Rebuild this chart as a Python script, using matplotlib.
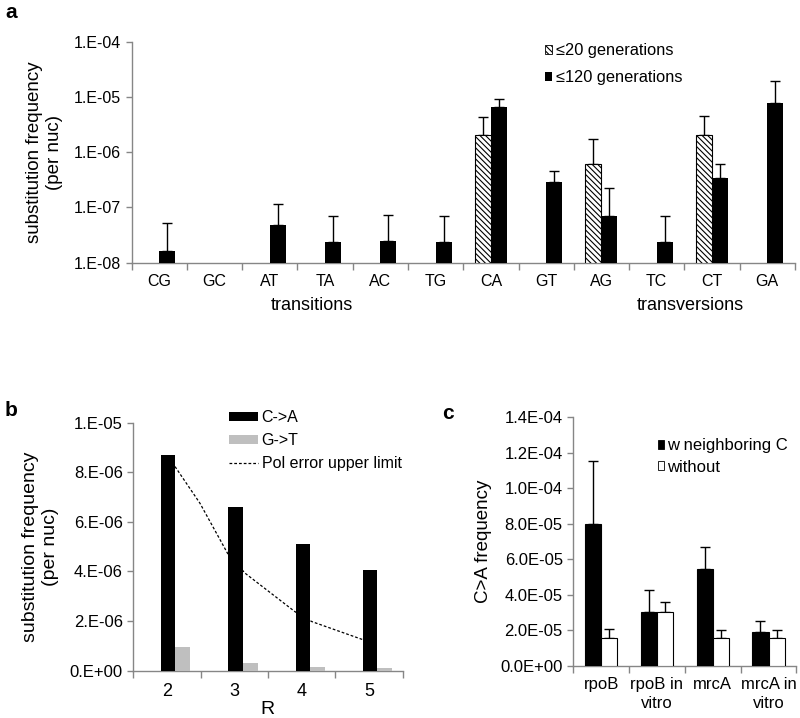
import numpy as np
import matplotlib
matplotlib.use("Agg")
import matplotlib.pyplot as plt
from matplotlib.patches import Patch
from matplotlib.lines import Line2D

plt.rcParams["font.family"] = ["Liberation Sans", "DejaVu Sans"]
plt.rcParams["hatch.linewidth"] = 0.8

# panel a data
subst = ["CG", "GC", "AT", "TA", "AC", "TG", "CA", "GT", "AG", "TC", "CT", "GA"]
gen20 = [0, 0, 0, 0, 0, 0, 2.05e-6, 0, 6.1e-7, 0, 2.05e-6, 0]
gen20_err = [0, 0, 0, 0, 0, 0, 4.4e-6, 0, 1.75e-6, 0, 4.6e-6, 0]
gen120 = [1.65e-8, 0, 4.8e-8, 2.4e-8, 2.5e-8, 2.4e-8, 6.7e-6, 2.93e-7, 7.1e-8, 2.4e-8, 3.38e-7, 7.9e-6]
gen120_err = [5.2e-8, 0, 1.14e-7, 7.1e-8, 7.4e-8, 7.1e-8, 9.2e-6, 4.6e-7, 2.23e-7, 7.1e-8, 6.1e-7, 1.98e-5]
a_yticks = [1e-8, 1e-7, 1e-6, 1e-5, 1e-4]
a_yticklabels = ["1.E-08", "1.E-07", "1.E-06", "1.E-05", "1.E-04"]

# panel b data
R_vals = ["2", "3", "4", "5"]
c_to_a = [8.70e-6, 6.61e-6, 5.10e-6, 4.05e-6]
g_to_t = [0.97e-6, 0.32e-6, 0.16e-6, 0.12e-6]
pol_R = [2.12, 2.49, 2.90, 3.16, 3.90, 4.15, 4.92]
pol_limit = [8.23e-6, 6.75e-6, 4.73e-6, 3.93e-6, 2.38e-6, 1.98e-6, 1.24e-6]
b_yticks = [0, 2e-6, 4e-6, 6e-6, 8e-6, 1e-5]
b_yticklabels = ["0.E+00", "2.E-06", "4.E-06", "6.E-06", "8.E-06", "1.E-05"]

# panel c data
genes = ["rpoB", "rpoB in\nvitro", "mrcA", "mrcA in\nvitro"]
with_c = [8.0e-5, 3.03e-5, 5.46e-5, 1.9e-5]
with_c_err = [11.55e-5, 4.3e-5, 6.69e-5, 2.52e-5]
without_c = [1.6e-5, 3.06e-5, 1.6e-5, 1.6e-5]
without_c_err = [2.1e-5, 3.59e-5, 2.01e-5, 2.05e-5]
c_yticks = [0, 2e-5, 4e-5, 6e-5, 8e-5, 1e-4, 1.2e-4, 1.4e-4]
c_yticklabels = ["0.0E+00", "2.0E-05", "4.0E-05", "6.0E-05", "8.0E-05", "1.0E-04", "1.2E-04", "1.4E-04"]

axis_grey = "#868686"
hatch = "\\\\\\\\\\\\"


def excel_axes(ax, n, ysize):
    for s in ["top", "right"]:
        ax.spines[s].set_visible(False)
    for s in ["left", "bottom"]:
        ax.spines[s].set_color(axis_grey)
        ax.spines[s].set_linewidth(1.0)
    ax.set_xlim(-0.5, n - 0.5)
    ax.set_xticks(np.arange(n))
    ax.set_xticks(np.arange(n + 1) - 0.5, minor=True)
    ax.tick_params(axis="x", which="major", length=0, pad=8)
    ax.tick_params(axis="x", which="minor", length=5, color=axis_grey, width=1.0)
    ax.tick_params(axis="y", which="major", length=4, color=axis_grey, width=1.0, labelsize=ysize)
    ax.tick_params(axis="y", which="minor", length=0)


fig = plt.figure(figsize=(8, 7.18), dpi=100)

# ---- panel a
ax_a = fig.add_axes([0.1646, 0.6341, 0.829, 0.3078])
x = np.arange(len(subst))
w = 0.29
g20 = np.array(gen20)
g120 = np.array(gen120)
m20 = g20 > 0
m120 = g120 > 0
ax_a.bar(x[m20] - w, g20[m20] - 1e-8, width=w, align="edge", bottom=1e-8, color="white",
         edgecolor="black", linewidth=0.8, hatch=hatch, zorder=3)
ax_a.bar(x[m120], g120[m120] - 1e-8, width=w, align="edge", bottom=1e-8,
         color="black", zorder=3)
ax_a.errorbar(x[m20] - w / 2, g20[m20], yerr=[np.zeros(m20.sum()), np.array(gen20_err)[m20] - g20[m20]],
              fmt="none", ecolor="black", elinewidth=1.0, capsize=3.5, capthick=1.0, zorder=2)
ax_a.errorbar(x[m120] + w / 2, g120[m120], yerr=[np.zeros(m120.sum()), np.array(gen120_err)[m120] - g120[m120]],
              fmt="none", ecolor="black", elinewidth=1.0, capsize=3.5, capthick=1.0, zorder=2)
ax_a.set_yscale("log")
ax_a.set_ylim(1e-8, 1e-4)
excel_axes(ax_a, len(subst), 11.5)
ax_a.set_yticks(a_yticks)
ax_a.set_yticklabels(a_yticklabels)
ax_a.set_xticklabels(subst, fontsize=11.5)
ax_a.set_ylabel("substitution frequency\n(per nuc)", fontsize=13.5, labelpad=8)
ax_a.legend([Patch(facecolor="white", edgecolor="black", hatch=hatch, linewidth=0.6),
             Patch(facecolor="black")],
            ["\u226420 generations", "\u2264120 generations"],
            loc="upper left", bbox_to_anchor=(545 / 800, 1 - 43 / 718), bbox_transform=fig.transFigure,
            frameon=False, fontsize=11.8, handlelength=0.45, handleheight=0.45,
            handletextpad=0.2, labelspacing=0.75, borderpad=0, borderaxespad=0)
fig.text(312 / 800, 1 - 305 / 718, "transitions", fontsize=13, ha="center", va="center")
fig.text(690 / 800, 1 - 305 / 718, "transversions", fontsize=13, ha="center", va="center")
fig.text(5 / 800, 1 - 12 / 718, "a", fontsize=15, fontweight="bold", ha="left", va="center")

# ---- panel b
ax_b = fig.add_axes([0.1666, 0.0659, 0.3368, 0.3454])
xb = np.arange(len(R_vals))
ax_b.bar(xb - 0.09, c_to_a, width=0.215, align="edge", color="black", zorder=3)
ax_b.bar(xb + 0.125, g_to_t, width=0.22, align="edge", color="#bfbfbf", zorder=3)
ax_b.plot(np.array(pol_R) - 2, pol_limit, color="black", lw=0.9, ls=(0, (2.2, 1.6)), zorder=2)
ax_b.set_ylim(0, 1e-5)
excel_axes(ax_b, len(R_vals), 12)
ax_b.set_yticks(b_yticks)
ax_b.set_yticklabels(b_yticklabels)
ax_b.set_xticklabels(R_vals, fontsize=13)
ax_b.tick_params(axis="x", which="major", pad=9)
ax_b.set_ylabel("substitution frequency\n(per nuc)", fontsize=14, labelpad=8)
fig.text(267 / 800, 1 - 709 / 718, "R", fontsize=14, ha="center", va="center")
ax_b.legend([Patch(facecolor="black"), Patch(facecolor="#bfbfbf"),
             Line2D([0], [0], color="black", lw=0.9, ls=(0, (2.2, 1.6)))],
            ["C->A", "G->T", "Pol error upper limit"],
            loc="upper left", bbox_to_anchor=(229 / 800, 1 - 410 / 718), bbox_transform=fig.transFigure,
            frameon=False, fontsize=11.5, handlelength=1.8, handleheight=0.5,
            handletextpad=0.25, labelspacing=0.5, borderpad=0, borderaxespad=0)
fig.text(5 / 800, 1 - 410 / 718, "b", fontsize=15, fontweight="bold", ha="left", va="center")

# ---- panel c
ax_c = fig.add_axes([0.7166, 0.0724, 0.279, 0.3464])
xc = np.arange(len(genes))
ax_c.bar(xc - w, with_c, width=w, align="edge", color="black", edgecolor="black", linewidth=0.8, zorder=3)
ax_c.bar(xc, without_c, width=w, align="edge", color="white", edgecolor="black", linewidth=0.8, zorder=3)
ax_c.errorbar(xc - w / 2, with_c, yerr=[np.zeros(len(genes)), np.array(with_c_err) - np.array(with_c)],
              fmt="none", ecolor="black", elinewidth=1.0, capsize=3.5, capthick=1.0, zorder=2)
ax_c.errorbar(xc + w / 2, without_c, yerr=[np.zeros(len(genes)), np.array(without_c_err) - np.array(without_c)],
              fmt="none", ecolor="black", elinewidth=1.0, capsize=3.5, capthick=1.0, zorder=2)
ax_c.set_ylim(0, 1.4e-4)
excel_axes(ax_c, len(genes), 12)
ax_c.set_yticks(c_yticks)
ax_c.set_yticklabels(c_yticklabels)
ax_c.set_xticklabels(genes, fontsize=12, linespacing=1.3)
ax_c.set_ylabel("C>A frequency", fontsize=13.5, labelpad=6)
ax_c.legend([Patch(facecolor="black", edgecolor="black", linewidth=0.6),
             Patch(facecolor="white", edgecolor="black", linewidth=0.6)],
            ["w neighboring C", "without"],
            loc="upper left", bbox_to_anchor=(658 / 800, 1 - 438 / 718), bbox_transform=fig.transFigure,
            frameon=False, fontsize=12, handlelength=0.35, handleheight=0.45,
            handletextpad=0.2, labelspacing=0.4, borderpad=0, borderaxespad=0)
fig.text(448 / 800, 1 - 414 / 718, "c", fontsize=15, fontweight="bold", ha="center", va="center")

fig.savefig("out.png", dpi=100)
